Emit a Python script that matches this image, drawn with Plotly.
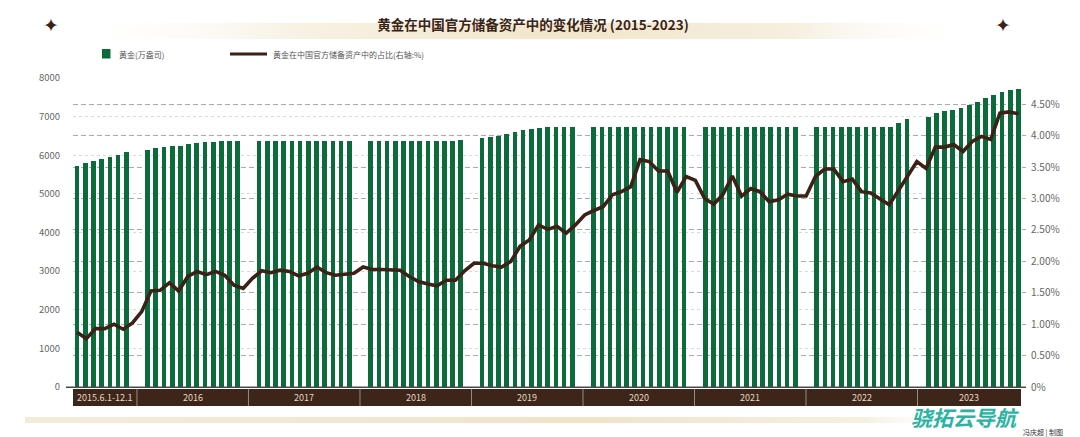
import base64
import numpy as np
import plotly.graph_objects as go

# ---------------- data ----------------
year_labels = ["2015.6.1-12.1", "2016", "2017", "2018", "2019", "2020", "2021", "2022", "2023"]

gold_2015 = [5727, 5787, 5849, 5901, 5952, 6012, 6082]
gold_2016 = [6141, 6175, 6211, 6245, 6245, 6297, 6323, 6341, 6356, 6367, 6367, 6367]
gold_2017 = [6367, 6367, 6367, 6367, 6367, 6367, 6367, 6367, 6367, 6367, 6367, 6367]
gold_2018 = [6367, 6367, 6367, 6367, 6367, 6367, 6367, 6367, 6367, 6367, 6367, 6400]
gold_2019 = [6434, 6471, 6504, 6556, 6608, 6642, 6678, 6704, 6720, 6720, 6720, 6720]
gold_2020 = [6720, 6720, 6720, 6720, 6720, 6720, 6720, 6720, 6720, 6720, 6720, 6720]
gold_2021 = [6720, 6720, 6720, 6720, 6720, 6720, 6720, 6720, 6720, 6720, 6720, 6720]
gold_2022 = [6720, 6720, 6720, 6720, 6720, 6720, 6720, 6720, 6720, 6720, 6833, 6937]
gold_2023 = [6989, 7083, 7135, 7170, 7222, 7300, 7378, 7481, 7567, 7644, 7696, 7722]

# share of gold in official reserve assets (%), one value per month (right axis)
share_pct = [
    0.87, 0.77, 0.93, 0.93, 1.00, 0.92, 1.02, 1.20, 1.53, 1.54,
    1.66, 1.53, 1.76, 1.84, 1.79, 1.84, 1.78, 1.62, 1.57, 1.73,
    1.85, 1.82, 1.86, 1.84, 1.77, 1.81, 1.91, 1.82, 1.78, 1.80,
    1.81, 1.91, 1.87, 1.87, 1.87, 1.86, 1.76, 1.68, 1.64, 1.61,
    1.70, 1.70, 1.85, 1.97, 1.97, 1.93, 1.91, 2.00, 2.24, 2.34,
    2.58, 2.51, 2.56, 2.45, 2.58, 2.74, 2.81, 2.87, 3.06, 3.11,
    3.19, 3.62, 3.59, 3.44, 3.44, 3.10, 3.35, 3.29, 3.00, 2.91,
    3.07, 3.36, 3.04, 3.16, 3.11, 2.95, 2.98, 3.07, 3.04, 3.04,
    3.35, 3.47, 3.47, 3.27, 3.31, 3.11, 3.09, 3.00, 2.90, 3.13,
    3.35, 3.59, 3.48, 3.82, 3.82, 3.86, 3.75, 3.91, 3.99, 3.94,
    4.36, 4.38, 4.35,
]

left_ticks = [0, 1000, 2000, 3000, 4000, 5000, 6000, 7000, 8000]
right_ticks = [0, 0.5, 1.0, 1.5, 2.0, 2.5, 3.0, 3.5, 4.0, 4.5]
right_ticktext = ["0%", "0.50%", "1.00%", "1.50%", "2.00%", "2.50%", "3.00%", "3.50%", "4.00%", "4.50%"]

title_text = "黄金在中国官方储备资产中的变化情况 (2015-2023)"
legend_bar = "黄金(万盎司)"
legend_line = "黄金在中国官方储备资产中的占比(右轴:%)"

# ---------------- styles ----------------
GREEN = "#0b6b3a"
BROWN = "#3b2117"
BAND = "#3d2519"
FONT = "Noto Sans CJK SC"

gold_by_year = [gold_2015, gold_2016, gold_2017, gold_2018, gold_2019,
                gold_2020, gold_2021, gold_2022, gold_2023]

# grouped layout: months side by side, a gap between years
GAP = 1.6
bar_x, bar_y, bounds = [], [], []
start = 0.0
for vals in gold_by_year:
    xs = [start + m for m in range(len(vals))]
    bar_x += xs
    bar_y += vals
    start = xs[-1] + 1 + GAP
    bounds.append(xs[-1] + (1 + GAP) / 2)

x0, x1 = -0.5, bar_x[-1] + 0.32
seg_edges = [x0] + bounds[:-1] + [x1]
line_x = np.linspace(bar_x[0], bar_x[-1], len(share_pct))


def to_paper(v):
    return (v - x0) / (x1 - x0)


def grad_uri(stops):
    st = "".join(
        f'<stop offset="{o}" stop-color="{c}" stop-opacity="{a}"/>' for o, c, a in stops)
    svg = ('<svg xmlns="http://www.w3.org/2000/svg" width="200" height="10" '
           'viewBox="0 0 200 10" preserveAspectRatio="none"><defs>'
           f'<linearGradient id="g" x1="0" x2="1" y1="0" y2="0">{st}</linearGradient>'
           '</defs><rect width="200" height="10" fill="url(#g)"/></svg>')
    return "data:image/svg+xml;base64," + base64.b64encode(svg.encode()).decode()


fig = go.Figure()
fig.add_trace(go.Bar(x=bar_x, y=bar_y, width=0.57, marker=dict(color=GREEN, line=dict(width=0)),
                     name=legend_bar, hoverinfo="skip"))
fig.add_trace(go.Scatter(x=line_x, y=share_pct, yaxis="y2", mode="lines",
                         line=dict(color=BROWN, width=3.6), name=legend_line, hoverinfo="skip"))

W, H = 1080, 437
ML, MR, MT, MB = 73, 59, 78, 50
PW, PH = W - ML - MR, H - MT - MB


def px(xp):
    return (xp - ML) / PW


def py(yp):
    return (H - MB - yp) / PH


shapes = []
annotations = []

# year band
shapes.append(dict(type="rect", xref="paper", yref="paper", x0=0, x1=1,
                   y0=py(406), y1=py(389), fillcolor=BAND, line=dict(width=0), layer="above"))
for b in bounds[:-1]:
    shapes.append(dict(type="line", xref="paper", yref="paper", x0=to_paper(b), x1=to_paper(b),
                       y0=py(406), y1=py(389), line=dict(color="#9c8a78", width=1), layer="above"))
for i, lab in enumerate(year_labels):
    annotations.append(dict(x=(seg_edges[i] + seg_edges[i + 1]) / 2, y=py(397.5), xref="x", yref="paper",
                            text=lab, showarrow=False, font=dict(family=FONT, size=9, color="#e6d8c2"),
                            xanchor="center", yanchor="middle", borderpad=0))

# baseline
shapes.append(dict(type="line", xref="paper", yref="paper", x0=px(66), x1=px(1026), y0=py(387.3), y1=py(387.3),
                   line=dict(color="#4a4a4a", width=1.5), layer="above"))

# legend
shapes.append(dict(type="rect", xref="paper", yref="paper", x0=px(102), x1=px(110.5), y0=py(58.5), y1=py(49),
                   fillcolor=GREEN, line=dict(width=0)))
shapes.append(dict(type="line", xref="paper", yref="paper", x0=px(230), x1=px(267), y0=py(54), y1=py(54),
                   line=dict(color=BROWN, width=3)))
annotations.append(dict(x=px(117), y=py(54), xref="paper", yref="paper", text=legend_bar, showarrow=False,
                        xanchor="left", yanchor="middle", font=dict(family=FONT, size=8, color="#555555")))
annotations.append(dict(x=px(271), y=py(54), xref="paper", yref="paper", text=legend_line, showarrow=False,
                        xanchor="left", yanchor="middle", font=dict(family=FONT, size=8, color="#555555")))

# decorative stars
for sx in (51, 1003):
    annotations.append(dict(x=px(sx), y=py(25), xref="paper", yref="paper", text="✦", showarrow=False,
                            xanchor="center", yanchor="middle",
                            font=dict(family="DejaVu Sans", size=19, color=BROWN)))

# watermark and credit
annotations.append(dict(x=px(965), y=py(417), xref="paper", yref="paper", text="<b>骁拓云导航</b>",
                        showarrow=False, xanchor="center", yanchor="middle", borderpad=0,
                        font=dict(family=FONT, size=21, color="#2cb3a2", style="italic")))
annotations.append(dict(x=px(1064), y=py(432), xref="paper", yref="paper", text="冯庆超 | 制图",
                        showarrow=False, xanchor="right", yanchor="middle", borderpad=0,
                        font=dict(family=FONT, size=7, color="#333333")))

images = [
    dict(source=grad_uri([(0, "#ffffff", 0), (0.25, "#f8f2e4", 1), (0.55, "#f2e6cb", 1),
                          (0.8, "#f6efdf", 1), (1, "#ffffff", 0)]),
         xref="paper", yref="paper", x=px(63), y=py(22.7), sizex=(975 - 63) / PW, sizey=16.6 / PH,
         sizing="stretch", xanchor="left", yanchor="top", layer="below"),
    dict(source=grad_uri([(0, "#f4ecdb", 1), (0.6, "#efe3c9", 1), (0.9, "#f6f0e2", 1), (1, "#ffffff", 0)]),
         xref="paper", yref="paper", x=px(25), y=py(416.7), sizex=(960 - 25) / PW, sizey=6.6 / PH,
         sizing="stretch", xanchor="left", yanchor="top", layer="below"),
]

fig.update_layout(
    width=W, height=H,
    margin=dict(l=ML, r=MR, t=MT, b=MB, pad=0),
    paper_bgcolor="white", plot_bgcolor="white",
    showlegend=False,
    bargap=0,
    title=dict(text=f"<b>{title_text}</b>", x=533 / W, xref="container", xanchor="center",
               y=1 - 25 / H, yref="container", yanchor="middle",
               font=dict(family=FONT, size=13.5, color="#3a2418")),
    xaxis=dict(range=[x0, x1], showticklabels=False, showgrid=False, zeroline=False,
               showline=False, ticks="", fixedrange=True),
    yaxis=dict(range=[0, 8000], tickvals=left_ticks, showgrid=True, gridcolor="#d9d9d9",
               griddash="dot", gridwidth=1, zeroline=False, showline=False, ticks="",
               ticklabelstandoff=12, tickfont=dict(family=FONT, size=9.5, color="#666666"),
               fixedrange=True),
    yaxis2=dict(range=[0, 4.92], overlaying="y", side="right", tickvals=right_ticks,
                ticktext=right_ticktext, showgrid=True, gridcolor="#ababab", griddash="5px,3px",
                gridwidth=1, zeroline=False, showline=False, ticks="outside", ticklen=4,
                tickcolor="#aaaaaa", ticklabelstandoff=3,
                tickfont=dict(family=FONT, size=10, color="#666666"), fixedrange=True),
    shapes=shapes,
    annotations=annotations,
    images=images,
)

fig.write_html("out.html", config={"displayModeBar": False})
